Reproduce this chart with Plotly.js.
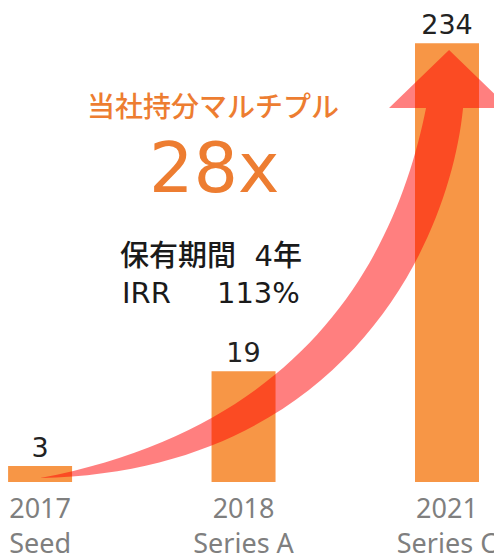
<!DOCTYPE html>
<html>
<head>
<meta charset="utf-8">
<script src="https://cdn.plot.ly/plotly-3.0.1.min.js"></script>
<style>
  html, body { margin: 0; padding: 0; background: #ffffff; }
  #chart { width: 494px; height: 556px; }
</style>
</head>
<body>
<div id="chart"></div>
<script>
// Rounds and the multiple at each round (labels)
const categories = ["2017<br>Seed", "2018<br>Series A", "2021<br>Series C"];
const multipleLabels = [3, 19, 234];
// Bar heights as drawn in the original (not to scale with the labels)
const barHeights = [8.5, 59, 234];

const TICK_FONT = "Noto Sans, Noto Sans CJK JP, sans-serif";
const TEXT_FONT = "DejaVu Sans, Noto Sans CJK JP, sans-serif";
const ORANGE_TEXT = "#ED7D31";

// Curved growth arrow, in axis units (x = category index)
const arrowPath = [
  "M 0,2.1",
  "C 1.376,30.4 1.769,130.1 1.897,199.4",
  "L 1.715,199.4",
  "L 2.010,230.3",
  "L 2.305,199.4",
  "L 2.079,199.4",
  "C 2.010,124.7 1.474,5.3 0,2.1",
  "Z"
].join(" ");

const traces = [{
  type: "bar",
  x: categories,
  y: barHeights,
  width: 0.3145,
  text: multipleLabels.map(String),
  textposition: "outside",
  cliponaxis: false,
  textfont: { family: TEXT_FONT, size: 27, color: "#222222" },
  marker: { color: "#F79646" },
  hoverinfo: "skip"
}];

const layout = {
  width: 494,
  height: 556,
  margin: { l: 0, r: 0, t: 0, b: 74 },
  paper_bgcolor: "#ffffff",
  plot_bgcolor: "#ffffff",
  showlegend: false,
  xaxis: {
    range: [-0.197, 2.231],
    showgrid: false,
    zeroline: false,
    showline: false,
    ticks: "",
    ticklabelstandoff: 8,
    tickfont: { family: TICK_FONT, size: 27, color: "#7f7f7f" }
  },
  yaxis: {
    range: [0, 257],
    visible: false
  },
  shapes: [{
    type: "path",
    xref: "x",
    yref: "y",
    path: arrowPath,
    fillcolor: "rgba(255,0,0,0.5)",
    line: { width: 0 },
    layer: "above"
  }],
  annotations: [
    {
      text: "当社持分マルチプル", xref: "paper", yref: "paper",
      x: 0.431, y: 0.778, xanchor: "center", yanchor: "middle", showarrow: false,
      font: { family: TEXT_FONT, size: 28, weight: 500, color: ORANGE_TEXT }
    },
    {
      text: "28x", xref: "paper", yref: "paper",
      x: 0.435, y: 0.651, xanchor: "center", yanchor: "middle", showarrow: false,
      font: { family: TEXT_FONT, size: 70, color: ORANGE_TEXT }
    },
    {
      text: "保有期間\u00a0\u00a04年", xref: "paper", yref: "paper",
      x: 0.239, y: 0.469, xanchor: "left", yanchor: "middle", showarrow: false,
      font: { family: TEXT_FONT, size: 29, weight: 500, color: "#1a1a1a" }
    },
    {
      text: "IRR\u00a0\u00a0\u00a0\u00a0\u00a0113%", xref: "paper", yref: "paper",
      x: 0.243, y: 0.392, xanchor: "left", yanchor: "middle", showarrow: false,
      font: { family: TEXT_FONT, size: 29, color: "#1a1a1a" }
    }
  ]
};

Plotly.newPlot("chart", traces, layout, { staticPlot: true, displayModeBar: false });
</script>
</body>
</html>
